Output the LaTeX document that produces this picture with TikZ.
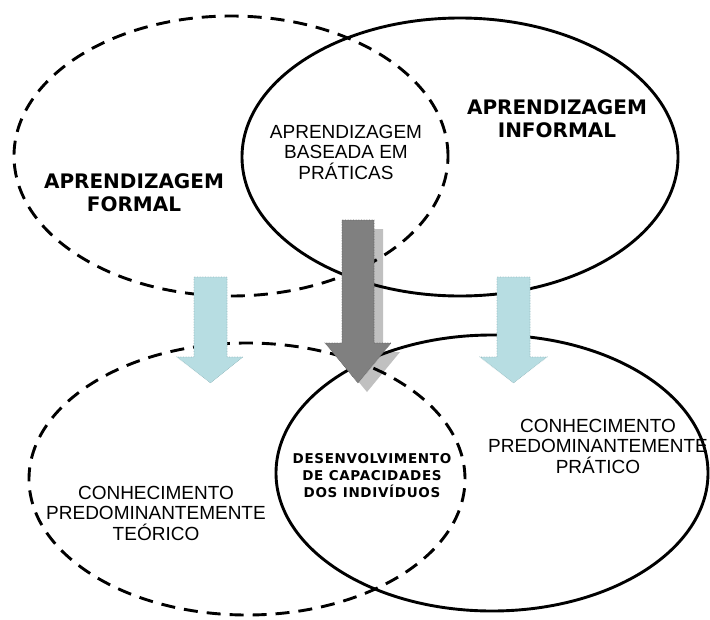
\documentclass[tikz,border=0pt]{standalone}
\usepackage{fontspec}
\setmainfont{Liberation Sans}
\newfontfamily\vbfont{DejaVu Sans}
\newfontfamily\vbsfont{DejaVu Sans}[LetterSpace=5]
\usetikzlibrary{shapes.geometric}
\definecolor{lblue}{RGB}{183,221,226}
\definecolor{lblueedge}{RGB}{150,185,190}
\definecolor{dgray}{RGB}{128,128,128}
\definecolor{sgray}{RGB}{192,192,192}
\begin{document}
\begin{tikzpicture}[x=1pt,y=-1pt,
  solidell/.style={ellipse, draw=black, line width=2.9pt, inner sep=0pt},
  dashell/.style={solidell, dash pattern=on 14pt off 9pt},
  bluearrow/.style={fill=lblue, draw=lblueedge, line width=0.6pt, densely dotted},
  darkarrow/.style={fill=dgray, draw=dgray!80!black, line width=0.6pt, densely dotted},
  shadowarrow/.style={fill=sgray},
  bigbold/.style={align=center, font=\vbfont\bfseries\fontsize{20}{23}\selectfont},
  plain/.style={align=center, font=\fontsize{19}{20.5}\selectfont},
  smallbold/.style={align=center, font=\vbsfont\bfseries\fontsize{13.5}{17}\selectfont}
]
\useasboundingbox (0,0) rectangle (710,619);
\fill[white] (0,0) rectangle (710,619);

% shadow of the dark arrow
\fill[shadowarrow] (351,229) -- (383,229) -- (383,352) -- (400,352) -- (367,392) -- (334,352) -- (351,352) -- cycle;

% ellipses
\node[dashell, minimum width=434pt, minimum height=280pt] (formal) at (231,156) {};
\node[solidell, minimum width=436pt, minimum height=278pt] (informal) at (460,157) {};
\node[dashell, minimum width=436pt, minimum height=272pt] (teorico) at (247,479) {};
\node[solidell, minimum width=432pt, minimum height=276pt] (pratico) at (492,473) {};

% arrows
\draw[darkarrow] (342,220) -- (374,220) -- (374,343) -- (391,343) -- (358,383) -- (325,343) -- (342,343) -- cycle;
\draw[bluearrow] (194,277) -- (227,277) -- (227,357) -- (243,357) -- (210.5,383) -- (177,357) -- (194,357) -- cycle;
\draw[bluearrow] (497,277) -- (530,277) -- (530,357) -- (547,357) -- (513.5,383) -- (480,357) -- (497,357) -- cycle;

% texts
\node[bigbold] (tformal) at (134,193) {APRENDIZAGEM\\FORMAL};
\node[bigbold] (tinformal) at (557,119) {APRENDIZAGEM\\INFORMAL};
\node[plain] (tpraticas) at (346,152) {APRENDIZAGEM\\BASEADA EM\\PRÁTICAS};
\node[smallbold] (tdesenv) at (372,476) {DESENVOLVIMENTO\\DE CAPACIDADES\\DOS INDIVÍDUOS};
\node[plain] (tteorico) at (156,513) {CONHECIMENTO\\PREDOMINANTEMENTE\\TEÓRICO};
\node[plain] (tpratico) at (598,446) {CONHECIMENTO\\PREDOMINANTEMENTE\\PRÁTICO};
\end{tikzpicture}
\end{document}
